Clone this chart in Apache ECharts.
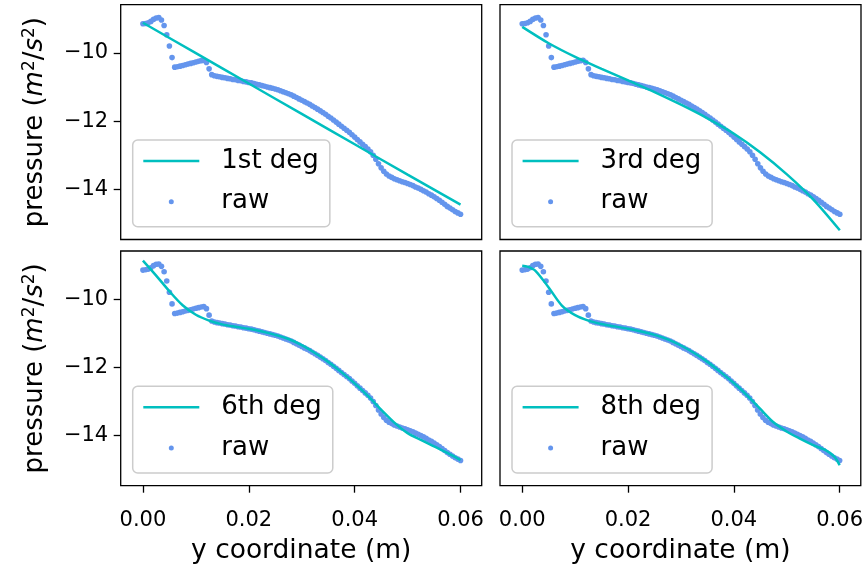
<!DOCTYPE html>
<html><head><meta charset="utf-8">
<script src="https://cdn.jsdelivr.net/npm/echarts@6/dist/echarts.min.js"></script>
<style>html,body{margin:0;padding:0;background:#fff}#c{width:866px;height:567px}</style>
</head><body><div id="c"></div>
<script>
// ---- data ----
const rawX = [0,0.0005,0.001,0.0015,0.002,0.0025,0.003,0.0035,0.004,0.0045,0.005,0.0055,0.006,0.0065,0.007,0.0075,0.008,0.0085,0.009,0.0095,
0.01,0.0105,0.011,0.0115,0.012,0.0125,0.013,0.0135,0.014,0.0145,0.015,0.0155,0.016,0.0165,0.017,0.0175,0.018,0.0185,0.019,0.0195,
0.02,0.0205,0.021,0.0215,0.022,0.0225,0.023,0.0235,0.024,0.0245,0.025,0.0255,0.026,0.0265,0.027,0.0275,0.028,0.0285,0.029,0.0295,
0.03,0.0305,0.031,0.0315,0.032,0.0325,0.033,0.0335,0.034,0.0345,0.035,0.0355,0.036,0.0365,0.037,0.0375,0.038,0.0385,0.039,0.0395,
0.04,0.0405,0.041,0.0415,0.042,0.0425,0.043,0.0435,0.044,0.0445,0.045,0.0455,0.046,0.0465,0.047,0.0475,0.048,0.0485,0.049,0.0495,
0.05,0.0505,0.051,0.0515,0.052,0.0525,0.053,0.0535,0.054,0.0545,0.055,0.0555,0.056,0.0565,0.057,0.0575,0.058,0.0585,0.059,0.0595,0.06];
const rawY = [-9.15,-9.14,-9.12,-9.08,-9.02,-8.98,-8.97,-9.04,-9.20,-9.47,-9.80,-10.14,-10.42,-10.41,-10.39,-10.37,-10.35,-10.33,-10.31,-10.29,
-10.27,-10.25,-10.23,-10.22,-10.28,-10.47,-10.64,-10.67,-10.69,-10.70,-10.72,-10.73,-10.75,-10.76,-10.78,-10.79,-10.81,-10.82,-10.84,-10.85,
-10.87,-10.88,-10.90,-10.92,-10.94,-10.96,-10.98,-11.00,-11.02,-11.04,-11.06,-11.08,-11.11,-11.14,-11.17,-11.20,-11.23,-11.27,-11.31,-11.35,
-11.39,-11.43,-11.47,-11.51,-11.56,-11.60,-11.65,-11.70,-11.75,-11.80,-11.86,-11.91,-11.97,-12.03,-12.09,-12.15,-12.21,-12.27,-12.33,-12.40,
-12.47,-12.54,-12.61,-12.68,-12.75,-12.82,-12.90,-13.00,-13.12,-13.25,-13.37,-13.47,-13.55,-13.61,-13.65,-13.69,-13.72,-13.75,-13.78,-13.80,
-13.83,-13.86,-13.89,-13.93,-13.96,-14.00,-14.04,-14.08,-14.13,-14.17,-14.22,-14.27,-14.32,-14.38,-14.44,-14.50,-14.55,-14.60,-14.65,-14.69,-14.73];

const fit1X = [0, 0.01, 0.02, 0.03, 0.04, 0.05, 0.06];
const fit1Y = [-9.12, -10.01, -10.90, -11.79, -12.68, -13.57, -14.45];

const fit3X = [0,0.005,0.01,0.015,0.02,0.025,0.03,0.035,0.04,0.045,0.05,0.055,0.06];
const fit3Y = [-9.24,-9.72,-10.12,-10.47,-10.81,-11.15,-11.52,-11.92,-12.37,-12.92,-13.56,-14.30,-15.20];

const fit6X = [0,0.0025,0.005,0.0075,0.01,0.0125,0.015,0.0175,0.02,0.0225,0.025,0.0275,0.03,0.0325,0.035,0.0375,0.04,0.0425,0.045,0.0475,0.05,0.0525,0.055,0.0575,0.06];
const fit6Y = [-8.87,-9.31,-9.77,-10.18,-10.46,-10.63,-10.74,-10.81,-10.87,-10.95,-11.05,-11.17,-11.35,-11.58,-11.84,-12.14,-12.47,-12.84,-13.24,-13.62,-13.93,-14.13,-14.32,-14.51,-14.72];

const fit8X = [0,0.001,0.0025,0.005,0.0075,0.01,0.0125,0.015,0.0175,0.02,0.0225,0.025,0.0275,0.03,0.0325,0.035,0.0375,0.04,0.0425,0.045,0.0475,0.05,0.0525,0.055,0.0575,0.059,0.06];
const fit8Y = [-9.02,-9.05,-9.17,-9.66,-10.19,-10.47,-10.63,-10.73,-10.80,-10.87,-10.95,-11.05,-11.18,-11.36,-11.58,-11.84,-12.14,-12.46,-12.82,-13.22,-13.61,-13.88,-14.09,-14.28,-14.44,-14.62,-14.87];

const fitNames = ['1st deg', '3rd deg', '6th deg', '8th deg'];
const rawName = 'raw';
const xTicks = [0, 0.02, 0.04, 0.06];
const yTicks = [-14, -12, -10];
const xLabel = 'y coordinate (m)';
const yLabelRich = '{a|pressure (}{b|m}{c|2}{a|/}{b|s}{c|2}{a|)}';

// ---- layout / style ----
const FONT = 'DejaVu Sans';
const FIT_COLOR = '#00bfbf';
const RAW_COLOR = '#6495ED';
const fits = [[fit1X, fit1Y], [fit3X, fit3Y], [fit6X, fit6Y], [fit8X, fit8Y]];
const grids = [
  {left: 120.7, top: 4.7, width: 361, height: 234.8},
  {left: 500, top: 4.7, width: 361, height: 234.8},
  {left: 120.7, top: 251, width: 361, height: 234.7},
  {left: 500, top: 251, width: 361, height: 234.7}
];
const minus = v => (v < 0 ? '\u2212' : '') + Math.abs(v);
const LINE_ICON = 'path://M0,0M73,14M0,5.75L56,5.75L56,8.25L0,8.25Z';
const DOT_ICON = 'path://M0,0M73,14M25.5,7A2.5,2.5,0,1,1,30.5,7A2.5,2.5,0,1,1,25.5,7Z';

const xAxes = [], yAxes = [], series = [], legends = [];
grids.forEach((g, i) => {
  const bottom = i >= 2, left = i % 2 === 0;
  xAxes.push({
    type: 'value', gridIndex: i, min: -0.0042, max: 0.064,
    axisLine: {show: false, onZero: false}, splitLine: {show: false},
    axisTick: {show: bottom, length: 7, customValues: xTicks, lineStyle: {color: '#000', width: 1.3}},
    axisLabel: {show: bottom, customValues: xTicks, formatter: v => v.toFixed(2), fontSize: 21, fontFamily: FONT, color: '#000', margin: 24},
    name: bottom ? xLabel : '', nameLocation: 'middle', nameGap: 52,
    nameTextStyle: {fontSize: 26.5, fontFamily: FONT, color: '#000'}
  });
  yAxes.push({
    type: 'value', gridIndex: i, min: -15.47, max: -8.59,
    axisLine: {show: false, onZero: false}, splitLine: {show: false},
    axisTick: {show: left, length: 7, customValues: yTicks, lineStyle: {color: '#000', width: 1.3}},
    axisLabel: {show: left, customValues: yTicks, formatter: minus, fontSize: 21, fontFamily: FONT, color: '#000', margin: 12.5},
    name: left ? yLabelRich : '', nameLocation: 'middle', nameRotate: 90, nameGap: 70,
    nameTextStyle: {fontSize: 26, fontFamily: FONT, color: '#000', rich: {
      a: {fontSize: 26, fontFamily: FONT, color: '#000', lineHeight: 30},
      b: {fontSize: 26, fontFamily: FONT, color: '#000', fontStyle: 'italic', lineHeight: 30},
      c: {fontSize: 17, fontFamily: FONT, color: '#000', lineHeight: 17, verticalAlign: 'top'}
    }}
  });
  series.push({
    type: 'scatter', name: rawName, xAxisIndex: i, yAxisIndex: i,
    data: rawX.map((x, k) => [x, rawY[k]]),
    symbolSize: 5.6, itemStyle: {color: RAW_COLOR, opacity: 1}, z: 2, silent: true
  });
  const [fx, fy] = fits[i];
  series.push({
    type: 'line', name: fitNames[i], xAxisIndex: i, yAxisIndex: i,
    data: fx.map((x, k) => [x, fy[k]]),
    symbol: 'none', showSymbol: false, smooth: 0.3,
    lineStyle: {color: FIT_COLOR, width: 2.5}, itemStyle: {color: FIT_COLOR}, z: 3, silent: true
  });
  legends.push({
    left: g.left + 12, top: g.top + 135.3, orient: 'vertical', selectedMode: false,
    data: [{name: fitNames[i], icon: LINE_ICON}, {name: rawName, icon: DOT_ICON}],
    itemWidth: 73, itemHeight: 14, itemGap: 14.7, padding: [8, 11, 12, 10.6],
    borderColor: '#cccccc', borderWidth: 1.5, borderRadius: 5,
    backgroundColor: 'rgba(255,255,255,0.8)',
    itemStyle: {borderWidth: 0},
    textStyle: {fontSize: 26, fontFamily: FONT, color: '#000'}, z: 10
  });
});

const chart = echarts.init(document.getElementById('c'), null, {renderer: 'canvas'});
chart.setOption({
  animation: false,
  backgroundColor: '#fff',
  grid: grids.map(g => Object.assign({show: true, borderColor: '#000', borderWidth: 1.3, backgroundColor: 'transparent'}, g)),
  xAxis: xAxes, yAxis: yAxes, series: series, legend: legends
});
</script></body></html>
